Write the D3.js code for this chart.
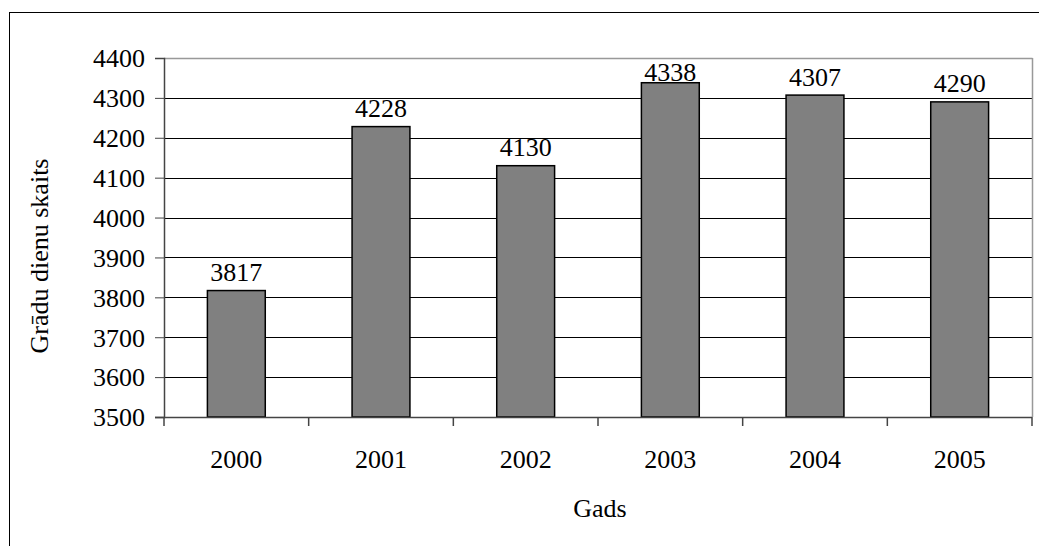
<!DOCTYPE html>
<html><head><meta charset="utf-8">
<script src="https://cdn.jsdelivr.net/npm/d3@7"></script>
<style>body{margin:0;background:#fff}svg{display:block}</style>
</head><body><svg id="c" width="1039" height="546"></svg>
<script>
const years = ["2000","2001","2002","2003","2004","2005"];
const values = [3817,4228,4130,4338,4307,4290];
const yTicks = [3500,3600,3700,3800,3900,4000,4100,4200,4300,4400];
const yTitle = "Grādu dienu skaits";
const xTitle = "Gads";

const FONT = "'Liberation Serif', serif";
const FS = 26;
const svg = d3.select("#c").style("font-family", FONT);
const L = 164, R = 1032, T = 58, B = 417;
svg.append("rect").attr("x",9.5).attr("y",12.5).attr("width",1100).attr("height",600)
  .attr("fill","#fff").attr("stroke","#000").attr("stroke-width",1);

const x = d3.scaleBand().domain(years).range([L,R]).paddingInner(0.6).paddingOuter(0.3);
const xb = d3.scaleBand().domain(years).range([L,R]);
const y = d3.scaleLinear().domain([3500,4400]).range([B,T]);

// gridlines
svg.append("g").selectAll("line").data(yTicks.filter(t=>t>3500 && t<4400)).join("line")
  .attr("x1",L).attr("x2",R).attr("y1",d=>Math.round(y(d))+0.5).attr("y2",d=>Math.round(y(d))+0.5)
  .attr("stroke","#000").attr("stroke-width",1);
// plot border top/right
svg.append("line").attr("x1",L).attr("x2",R+0.5).attr("y1",T+0.5).attr("y2",T+0.5).attr("stroke","#999").attr("stroke-width",1.5);
svg.append("line").attr("x1",R+0.5).attr("x2",R+0.5).attr("y1",T).attr("y2",B).attr("stroke","#999").attr("stroke-width",1.5);

// bars
svg.append("g").selectAll("rect").data(values).join("rect")
  .attr("x",(d,i)=>x(years[i])).attr("width",x.bandwidth())
  .attr("y",d=>y(d)).attr("height",d=>B-y(d))
  .attr("fill","#808080").attr("stroke","#000").attr("stroke-width",1.5);

// value labels (kept inside plot area top)
svg.append("g").selectAll("text").data(values).join("text")
  .attr("x",(d,i)=>x(years[i])+x.bandwidth()/2).attr("y",d=>Math.max(y(d)-9.5, T+23))
  .attr("text-anchor","middle").style("font-family",FONT).attr("font-size",FS).text(d=>d);

// y axis
const ya = d3.axisLeft(y).tickValues(yTicks).tickSize(9).tickPadding(10).tickFormat(d3.format("d"));
const gy = svg.append("g").attr("transform",`translate(${L},0)`).call(ya);
gy.attr("font-family",null);
gy.select(".domain").attr("stroke","#444").attr("stroke-width",1.5);
gy.selectAll(".tick line").attr("stroke","#444");
gy.selectAll("text").style("font-family",FONT).attr("font-size",FS).attr("fill","#000").attr("dy","0.34em");

// x axis
const xa = d3.axisBottom(xb).tickSize(0).tickPadding(0);
const gx = svg.append("g").attr("transform",`translate(0,${B})`).call(xa);
gx.attr("font-family",null);
gx.select(".domain").remove();
svg.append("line").attr("x1",L-9).attr("x2",R).attr("y1",B+0.5).attr("y2",B+0.5).attr("stroke","#444").attr("stroke-width",1.5);
const bounds = years.map(d=>xb(d)).concat([R]);
svg.append("g").selectAll("line").data(bounds).join("line")
  .attr("x1",d=>d).attr("x2",d=>d).attr("y1",B).attr("y2",B+9).attr("stroke","#444").attr("stroke-width",1.5);
gx.selectAll("text").style("font-family",FONT).attr("font-size",FS).attr("fill","#000")
  .attr("dy",0).attr("y",51);

// titles
svg.append("text").attr("transform","translate(48,256) rotate(-90)").attr("text-anchor","middle")
  .style("font-family",FONT).attr("font-size",FS).text(yTitle);
svg.append("text").attr("x",600).attr("y",517).attr("text-anchor","middle")
  .style("font-family",FONT).attr("font-size",FS).text(xTitle);
</script></body></html>
